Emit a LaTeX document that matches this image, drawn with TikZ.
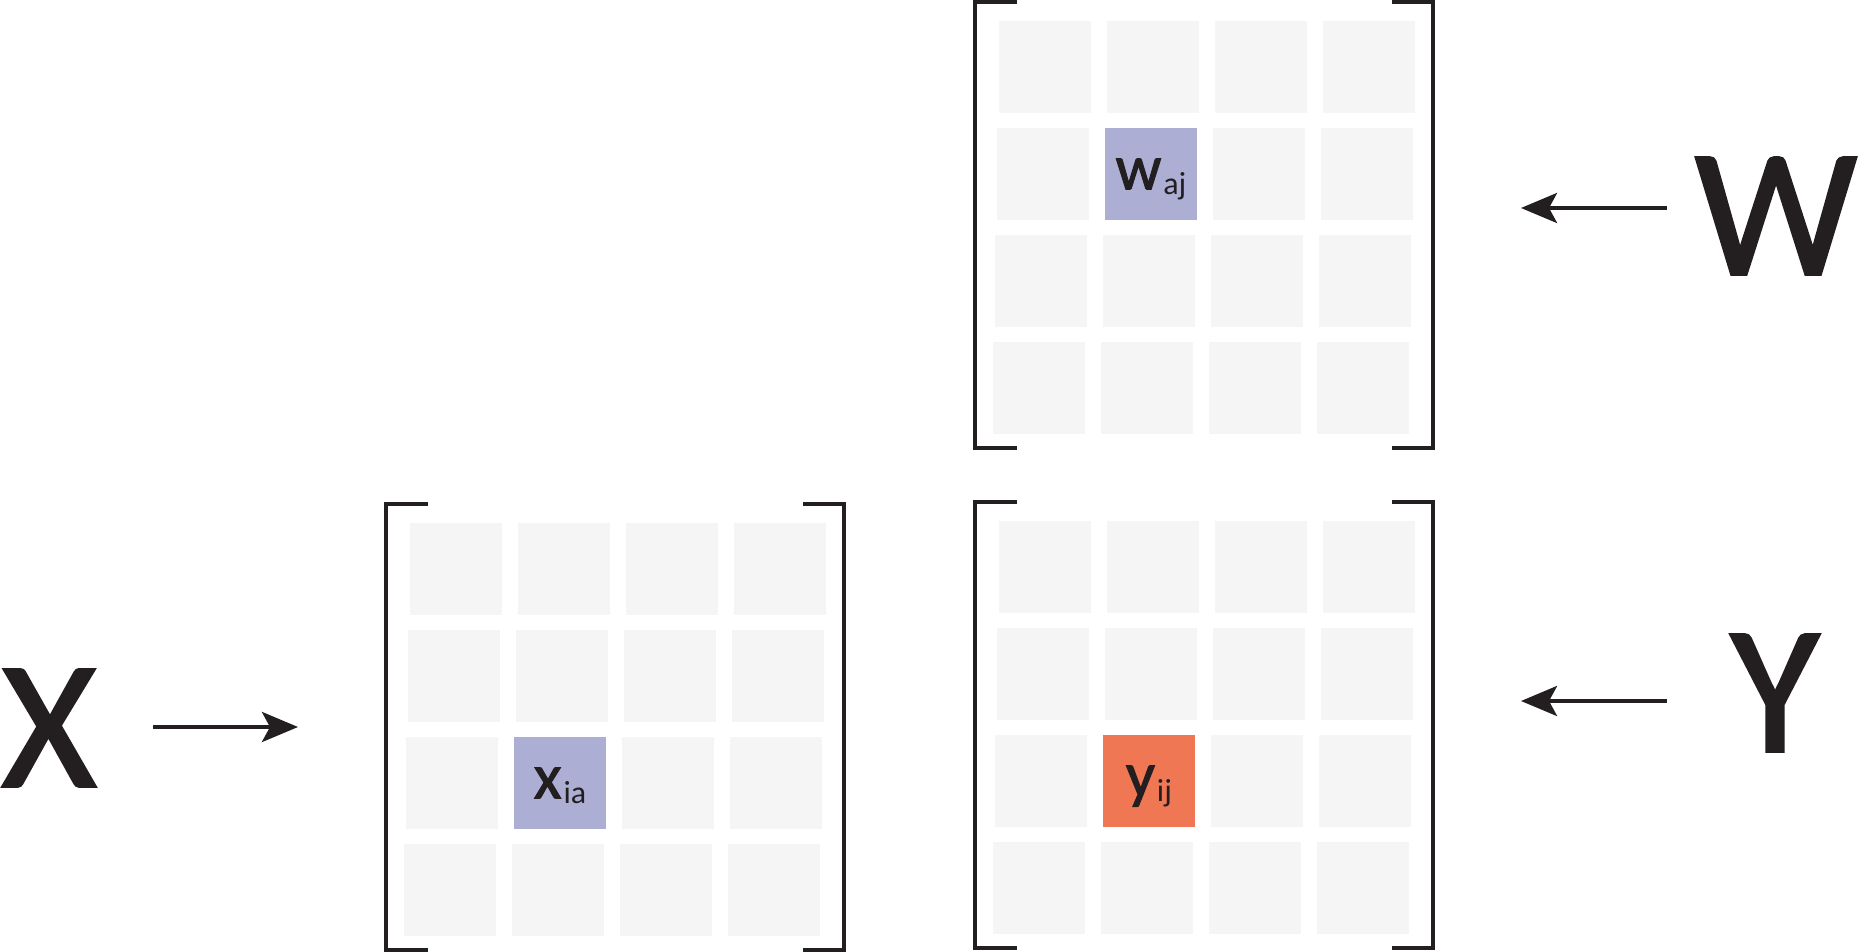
\documentclass[tikz,border=0pt]{standalone}
\usepackage{fontspec}
\setmainfont{Carlito}
\newfontfamily\heavyfont[FakeBold=1.6]{Carlito}
\usepackage{xcolor}
\definecolor{mxgray}{RGB}{245,245,245}
\definecolor{mxpurple}{RGB}{172,174,212}
\definecolor{mxorange}{RGB}{240,119,83}
\definecolor{mxink}{RGB}{35,31,32}
\usetikzlibrary{arrows.meta,positioning}

\tikzset{
  bigletter/.style={font=\fontsize{91}{91}\selectfont\heavyfont,text=mxink,inner sep=0pt},
  hicell/.style={minimum width=46pt,minimum height=46pt,inner sep=0pt,text depth=0pt,
                 font=\fontsize{32}{32}\selectfont,text=mxink},
  bracketline/.style={draw=mxink,line width=1.7pt},
  maparrow/.style={draw=mxink,line width=2pt,-{Stealth[length=18pt,width=15pt,inset=4pt]}},
}
\newcommand{\cellsub}[1]{\kern1pt\raisebox{-2.75pt}{\fontsize{16}{16}\selectfont\rmfamily #1}}

%% 4x4 grid of light cells with brackets, #1,#2 = top-left corner of first cell
\newcommand{\cellgrid}[2]{%
  \foreach \r in {0,...,3}{
    \foreach \c in {0,...,3}{
      \fill[mxgray] ({#1+108*\c-2*\r},{#2+107*\r}) rectangle ++(92,92);
    }
  }
  \draw[bracketline] ({#1+18},{#2-19}) -| ({#1-24},{#2+427}) -- ({#1+18},{#2+427});
  \draw[bracketline] ({#1+393},{#2-19}) -| ({#1+434},{#2+427}) -- ({#1+393},{#2+427});
}

\begin{document}
\begin{tikzpicture}[x=0.5pt,y=-0.5pt]
  \useasboundingbox (0,0) rectangle (1864,952);

  %% Matrix W
  \cellgrid{999}{21}
  \node[hicell,fill=mxpurple] (waj) at (1151,174) {{\heavyfont w}\cellsub{aj}};

  %% Matrix X
  \cellgrid{410}{523}
  \node[hicell,fill=mxpurple] (xia) at (560,783) {{\heavyfont x}\cellsub{ia}};

  %% Matrix Y
  \cellgrid{999}{521}
  \node[hicell,fill=mxorange] (yij) at (1149,781) {{\heavyfont y}\cellsub{ij}};

  %% Labels
  \node[bigletter] (lX) at (49,728) {X};
  \node[bigletter] (lW) at (1776,216) {W};
  \node[bigletter] (lY) at (1775,693) {Y};

  %% Arrows
  \coordinate (xtail) at (153,727);
  \coordinate (xtip) at (298,727);
  \coordinate (wtail) at (1667,208);
  \coordinate (wtip) at (1521,208);
  \coordinate (ytail) at (1667,701);
  \coordinate (ytip) at (1521,701);
  \draw[maparrow] (xtail) -- (xtip);
  \draw[maparrow] (wtail) -- (wtip);
  \draw[maparrow] (ytail) -- (ytip);
\end{tikzpicture}
\end{document}
